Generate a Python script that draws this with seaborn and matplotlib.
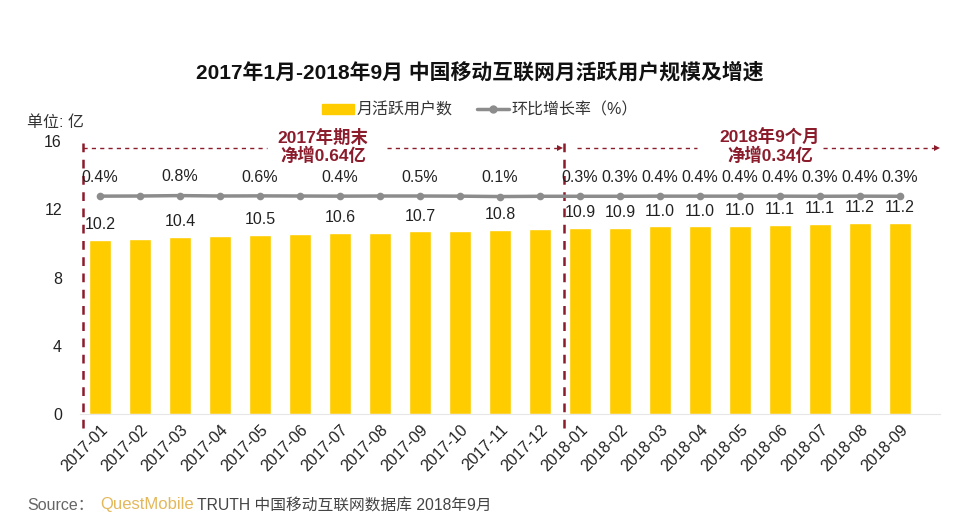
import matplotlib.pyplot as plt
import matplotlib.patches as mpatches
from matplotlib.lines import Line2D
import numpy as np
import seaborn as sns

# Months (x categories)
months = ['2017-01', '2017-02', '2017-03', '2017-04', '2017-05', '2017-06', '2017-07',
          '2017-08', '2017-09', '2017-10', '2017-11', '2017-12', '2018-01', '2018-02',
          '2018-03', '2018-04', '2018-05', '2018-06', '2018-07', '2018-08', '2018-09']

# Monthly active users (100 million)
users = [10.2, 10.25, 10.4, 10.45, 10.5, 10.55, 10.6, 10.62, 10.7, 10.75, 10.8, 10.85,
         10.9, 10.92, 11.0, 11.0, 11.03, 11.1, 11.12, 11.2, 11.2]
user_labels = ['10.2', '', '10.4', '', '10.5', '', '10.6', '', '10.7', '', '10.8', '',
               '10.9', '10.9', '11.0', '11.0', '11.0', '11.1', '11.1', '11.2', '11.2']

# Month-over-month growth (%)
growth = [0.4, 0.5, 0.8, 0.5, 0.6, 0.5, 0.4, 0.5, 0.5, 0.4, 0.1, 0.3,
          0.3, 0.3, 0.4, 0.4, 0.4, 0.4, 0.3, 0.4, 0.3]
growth_labels = ['0.4%', '', '0.8%', '', '0.6%', '', '0.4%', '', '0.5%', '', '0.1%', '',
                 '0.3%', '0.3%', '0.4%', '0.4%', '0.4%', '0.4%', '0.3%', '0.4%', '0.3%']

sns.set_style('white')
plt.rcParams['font.family'] = ['Liberation Sans', 'Noto Sans CJK SC', 'DejaVu Sans']

yellow = '#FFCC00'
grey = '#8C8C8C'
darkred = '#8B1C2C'

fig = plt.figure(figsize=(9.6, 5.29), dpi=100)
ax = fig.add_axes([80 / 960, 115 / 529, 860 / 960, 273 / 529])

sns.barplot(x=months, y=users, color=yellow, saturation=1, width=0.56, ax=ax, zorder=2)
ax.set_xlim(-0.5, 21)
ax.set_ylim(0, 16)
ax.set_yticks([0, 4, 8, 12, 16])
ax.set_xlabel('')
ax.set_ylabel('')
ax.tick_params(axis='y', length=0, pad=13, labelsize=11.5, labelcolor='#222222')
ax.tick_params(axis='x', length=0, pad=6, labelsize=11.5, labelcolor='#222222')
plt.setp(ax.get_xticklabels(), rotation=45, ha='right', rotation_mode='anchor')
for s in ['top', 'right', 'left']:
    ax.spines[s].set_visible(False)
ax.spines['bottom'].set_color('#E6E6E6')

for i, (v, t) in enumerate(zip(users, user_labels)):
    if t:
        ax.annotate(t, (i, v), xytext=(0, 11), textcoords='offset points',
                    ha='center', va='center', fontsize=11.5, color='#222222')

# Growth line on a secondary axis
ax2 = ax.twinx()
xs = np.arange(len(months))
sns.lineplot(x=xs, y=growth, ax=ax2, color=grey, lw=2.5, marker='o', markersize=5.5,
             markeredgewidth=0, zorder=3)
ax2.set_ylim(-159.2, 40.8)
ax2.set_yticks([])
ax2.set_ylabel('')
for s in ax2.spines.values():
    s.set_visible(False)
for i, (v, t) in enumerate(zip(growth, growth_labels)):
    if t:
        ax2.annotate(t, (i, v), xytext=(0, 13.5), textcoords='offset points',
                     ha='center', va='center', fontsize=11.5, color='#222222')

# Period separators and arrows
for xv in [-0.425, 11.6]:
    ax.plot([xv, xv], [15.9, -0.9], ls=(0, (3.5, 3)), lw=1.8, color=darkred,
            clip_on=False, zorder=4)
y_arrow = 15.6
for x1, x2 in [(-0.425, 4.175), (7.175, 11.45), (11.925, 14.925), (18.075, 20.9)]:
    ax.plot([x1, x2], [y_arrow, y_arrow], ls=(0, (3, 3)), lw=1, color=darkred,
            clip_on=False, zorder=4)
for xe in [11.5, 20.925]:
    ax.plot([xe], [y_arrow], marker='>', markersize=5, color=darkred,
            markeredgewidth=0, clip_on=False, zorder=4)
ax.text(5.575, 15.7, '2017年期末\n净增0.64亿', ha='center', va='center',
        fontsize=12.5, color=darkred, fontweight='bold', linespacing=1.05)
ax.text(16.75, 15.7, '2018年9个月\n净增0.34亿', ha='center', va='center',
        fontsize=12.5, color=darkred, fontweight='bold', linespacing=1.05)

# Title, unit, legend, source
fig.text(0.5, 1 - 72 / 529, '2017年1月-2018年9月 中国移动互联网月活跃用户规模及增速',
         ha='center', va='center', fontsize=15, fontweight='bold', color='#111111')
fig.text(27 / 960, 1 - 123 / 529, '单位: 亿', ha='left', va='center',
         fontsize=11.5, color='#333333')

handles = [mpatches.Patch(color=yellow, label='月活跃用户数'),
           Line2D([0], [0], color=grey, lw=2.5, marker='o', markersize=5,
                  label='环比增长率（%）')]
fig.legend(handles=handles, loc='center', bbox_to_anchor=(480 / 960, 1 - 110 / 529),
           ncol=2, frameon=False, fontsize=11.5, handlelength=2.0, handleheight=0.6,
           columnspacing=1.5, handletextpad=0.2, labelcolor='#333333')

fig.text(27 / 960, 1 - 505 / 529, 'Source：', ha='left', va='center', fontsize=11.5,
         color='#666666')
fig.text(100 / 960, 1 - 505 / 529, 'QuestMobile', ha='left', va='center', fontsize=12,
         color='#E3B85A')
fig.text(197 / 960, 1 - 505 / 529, 'TRUTH 中国移动互联网数据库 2018年9月', ha='left',
         va='center', fontsize=11.3, color='#444444')

fig.savefig('out.png', dpi=100)
